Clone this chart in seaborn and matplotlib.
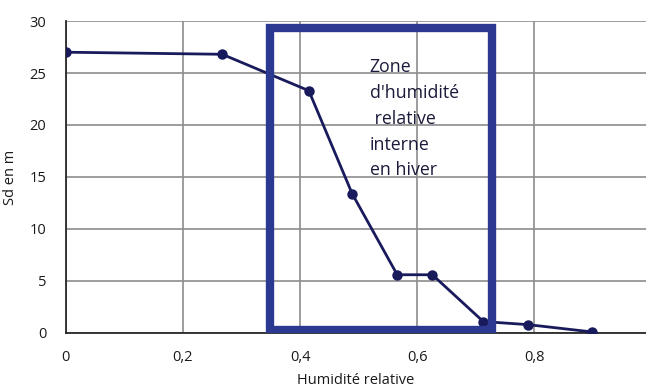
import matplotlib
matplotlib.use("Agg")
import matplotlib.pyplot as plt
import matplotlib.patches as patches
from matplotlib.ticker import FuncFormatter
import pandas as pd
import seaborn as sns

# Sd values
humidite = [0.0, 0.267, 0.415, 0.489, 0.566, 0.626, 0.713, 0.790, 0.899]
sd = [27.0, 26.8, 23.3, 13.4, 5.6, 5.6, 1.1, 0.8, 0.1]

# winter indoor humidity zone
zone_x = [0.349, 0.728]
zone_y = [0.3, 29.3]
zone_label = "Zone\nd'humidité\n relative\ninterne\nen hiver"

x_ticks = [0, 0.2, 0.4, 0.6, 0.8]
y_ticks = [0, 5, 10, 15, 20, 25, 30]

df = pd.DataFrame({"Humidité relative": humidite, "Sd en m": sd})

sns.set_theme(style="white")
plt.rcParams["font.family"] = ["Open Sans", "DejaVu Sans"]

fig = plt.figure(figsize=(6.46, 3.89), dpi=100)
ax = fig.add_axes([0.102, 0.144, 0.898, 0.802])

ax.grid(True, color="#8c8c8c", linewidth=1.2)
ax.set_axisbelow(True)

sns.lineplot(data=df, x="Humidité relative", y="Sd en m", ax=ax,
             color="#191a5c", linewidth=2.0, marker="o", markersize=7.5,
             markeredgewidth=0, zorder=3)

rect = patches.Rectangle((zone_x[0], zone_y[0]), zone_x[1] - zone_x[0],
                         zone_y[1] - zone_y[0], fill=False,
                         edgecolor="#2b3990", linewidth=6, zorder=4)
ax.add_patch(rect)
ax.text(0.519, 26.4, zone_label, fontsize=12.8, color="#1a1a3a",
        va="top", ha="left", linespacing=1.55, zorder=5)

ax.set_xlim(0, 0.991)
ax.set_ylim(0, 30)
ax.set_xticks(x_ticks)
ax.set_yticks(y_ticks)
fmt = FuncFormatter(lambda v, p: ("%g" % v).replace(".", ","))
ax.xaxis.set_major_formatter(fmt)
ax.tick_params(labelsize=10.5, colors="#1a1a1a", length=0, pad=12)
ax.tick_params(axis="y", pad=14)

for s in ["top", "right"]:
    ax.spines[s].set_visible(False)
ax.spines["left"].set_color("#222222")
ax.spines["bottom"].set_color("#222222")

ax.set_xlabel("Humidité relative", fontsize=10.5, color="#1a1a1a", labelpad=6)
ax.set_ylabel("Sd en m", fontsize=10.5, color="#1a1a1a", labelpad=8)

fig.savefig("out.png", dpi=100)
